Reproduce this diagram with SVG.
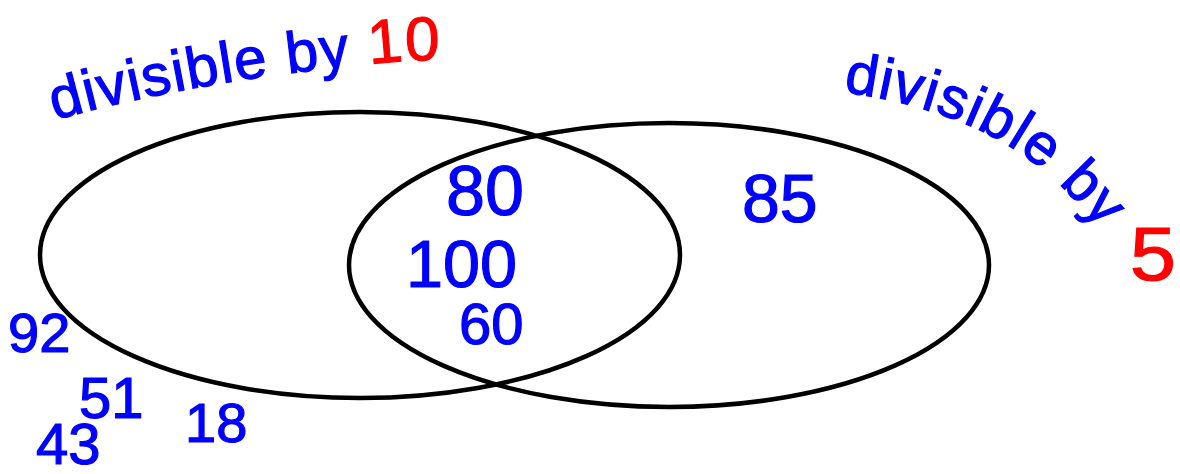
<svg xmlns="http://www.w3.org/2000/svg" width="1180" height="474" viewBox="0 0 1180 474">
<style>
.set{fill:none;stroke:#000;stroke-width:4.5}
.hw{font-family:"Liberation Sans",Arial,sans-serif;fill:#0000ff;stroke:#0000ff;stroke-width:1.2}
.red{fill:#ff0000;stroke:#ff0000}
</style>
<defs>
<path id="p10" d="M55,120 Q170,88 300,72 T440,62" fill="none"/>
<path id="p5" d="M843,92 Q985,112 1060,185 T1130,290" fill="none"/>
</defs>
<rect width="1180" height="474" fill="#fff"/>
<g id="set-div10">
<ellipse class="set" cx="360" cy="255" rx="320" ry="143"/>
<text class="hw" font-size="58" letter-spacing="1.5"><textPath href="#p10">divisible by <tspan class="red" font-size="62">10</tspan></textPath></text>
</g>
<g id="set-div5">
<ellipse class="set" cx="669" cy="265" rx="320" ry="142"/>
<text class="hw" font-size="58" letter-spacing="1.5"><textPath href="#p5">divisible by</textPath></text>
<text class="hw red" font-size="76" x="1130" y="280" textLength="46" lengthAdjust="spacingAndGlyphs">5</text>
</g>
<g id="both">
<text class="hw" font-size="70" x="446" y="215">80</text>
<text class="hw" font-size="66" x="406" y="287" textLength="111" lengthAdjust="spacingAndGlyphs">100</text>
<text class="hw" font-size="58" x="459" y="344">60</text>
</g>
<g id="only5">
<text class="hw" font-size="68" x="742" y="222">85</text>
</g>
<g id="neither">
<text class="hw" font-size="56" x="8" y="352">92</text>
<text class="hw" font-size="58" x="79" y="418">51</text>
<text class="hw" font-size="58" x="36" y="464">43</text>
<text class="hw" font-size="56" x="185" y="442">18</text>
</g>
</svg>
